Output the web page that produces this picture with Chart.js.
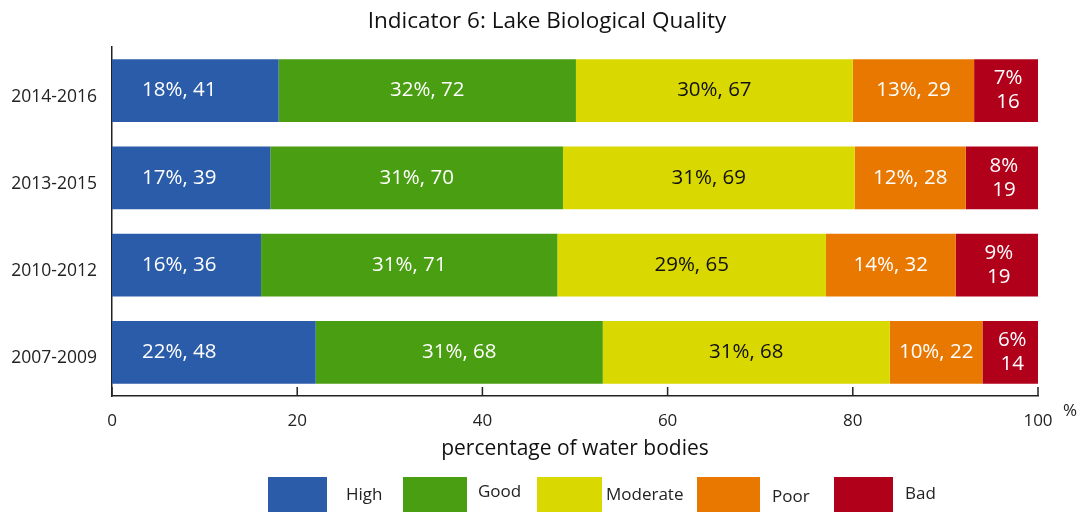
<!DOCTYPE html>
<html>
<head>
<meta charset="utf-8">
<script src="https://cdn.jsdelivr.net/npm/chart.js@4/dist/chart.umd.min.js"></script>
<style>
  html, body { margin: 0; padding: 0; background: #fff; }
  #wrap { width: 1081px; height: 512px; }
</style>
</head>
<body>
<div id="wrap"><canvas id="chart"></canvas></div>
<script>
// Assessment periods (top to bottom)
const periods = ["2014-2016", "2013-2015", "2010-2012", "2007-2009"];
const classNames = ["High", "Good", "Moderate", "Poor", "Bad"];

// Share of water bodies per class (bar length, %)
const highShare = [18.0, 17.1, 16.1, 22.0];
const goodShare = [32.1, 31.6, 32.0, 31.0];
const moderateShare = [29.9, 31.5, 29.0, 31.0];
const poorShare = [13.1, 12.0, 14.0, 10.0];
const badShare = [6.9, 7.8, 8.9, 6.0];

// Rounded % shown in labels
const highPct = [18, 17, 16, 22];
const goodPct = [32, 31, 31, 31];
const moderatePct = [30, 31, 29, 31];
const poorPct = [13, 12, 14, 10];
const badPct = [7, 8, 9, 6];

// Number of water bodies
const highCount = [41, 39, 36, 48];
const goodCount = [72, 70, 71, 68];
const moderateCount = [67, 69, 65, 68];
const poorCount = [29, 28, 32, 22];
const badCount = [16, 19, 19, 14];

const xTicks = [0, 20, 40, 60, 80, 100];
const chartTitle = "Indicator 6: Lake Biological Quality";

const FONT = "'Open Sans', 'Noto Sans', sans-serif";
const colors = ["#2B5CA9", "#4A9E12", "#D9D800", "#E87800", "#B0001A"];
const labelColors = ["#fff", "#fff", "#111", "#fff", "#fff"];

const shares = [highShare, goodShare, moderateShare, poorShare, badShare];
const pcts = [highPct, goodPct, moderatePct, poorPct, badPct];
const counts = [highCount, goodCount, moderateCount, poorCount, badCount];

const datasets = classNames.map((name, i) => ({
  label: name,
  data: shares[i],
  pct: pcts[i],
  count: counts[i],
  backgroundColor: colors[i],
  labelColor: labelColors[i],
  borderWidth: 0,
  barPercentage: 0.72,
  categoryPercentage: 1.0
}));

// Labels in bars, inward tick marks, "%" unit, title and legend
const decorations = {
  id: "decorations",
  afterDatasetsDraw(chart) {
    const ctx = chart.ctx;
    const last = chart.data.datasets.length - 1;
    ctx.save();
    ctx.font = "20.5px " + FONT;
    ctx.textBaseline = "middle";
    chart.data.datasets.forEach((ds, i) => {
      const meta = chart.getDatasetMeta(i);
      ctx.fillStyle = ds.labelColor;
      meta.data.forEach((bar, j) => {
        const cx = (bar.x + bar.base) / 2;
        const txt = ds.pct[j] + "%, " + ds.count[j];
        if (i === 0) {
          // first class: label sits near the start of the bar
          ctx.textAlign = "left";
          ctx.fillText(txt, bar.base + 30, bar.y);
        } else if (i === last) {
          ctx.textAlign = "center";
          ctx.fillText(ds.pct[j] + "%", cx + 2, bar.y - 12);
          ctx.fillText(String(ds.count[j]), cx + 2, bar.y + 12);
        } else {
          ctx.textAlign = "center";
          ctx.fillText(txt, cx, bar.y);
        }
      });
    });
    ctx.restore();
  },
  afterDraw(chart) {
    const ctx = chart.ctx;
    const xs = chart.scales.x;
    const area = chart.chartArea;
    ctx.save();
    // tick marks pointing into the plot
    ctx.strokeStyle = "#222";
    ctx.lineWidth = 1.5;
    xTicks.forEach(v => {
      const px = xs.getPixelForValue(v);
      ctx.beginPath();
      ctx.moveTo(px, area.bottom);
      ctx.lineTo(px, area.bottom - 9);
      ctx.stroke();
    });
    // unit
    ctx.fillStyle = "#222";
    ctx.font = "17px " + FONT;
    ctx.textAlign = "left";
    ctx.textBaseline = "middle";
    ctx.fillText("%", area.right + 25, area.bottom + 15);

    // title
    ctx.fillStyle = "#111";
    ctx.font = "22.5px " + FONT;
    ctx.textAlign = "center";
    ctx.fillText(chartTitle, 547, 22);

    // legend
    const boxX = [268, 403, 537, 697, 834];
    const boxW = [59, 64, 65, 63, 59];
    const textX = [346, 478, 606, 772, 905];
    const textY = [495, 492, 495, 497, 494];
    ctx.font = "17px " + FONT;
    ctx.textAlign = "left";
    chart.data.datasets.forEach((ds, i) => {
      ctx.fillStyle = ds.backgroundColor;
      ctx.fillRect(boxX[i], 477, boxW[i], 35);
      ctx.fillStyle = "#222";
      ctx.fillText(ds.label, textX[i], textY[i]);
    });
    ctx.restore();
  }
};

new Chart(document.getElementById("chart"), {
  type: "bar",
  data: { labels: periods, datasets: datasets },
  options: {
    indexAxis: "y",
    responsive: true,
    maintainAspectRatio: false,
    animation: false,
    layout: { padding: { top: 47, right: 43, bottom: 50, left: 0 } },
    plugins: {
      legend: { display: false },
      tooltip: { enabled: false },
      title: { display: false }
    },
    scales: {
      x: {
        stacked: true,
        min: 0,
        max: 100,
        afterBuildTicks: s => { s.ticks = xTicks.map(v => ({ value: v })); },
        afterFit: s => { s.height = 66; },
        grid: { display: false, drawTicks: false },
        border: { display: true, color: "#222", width: 1.5 },
        ticks: {
          color: "#222",
          padding: 15,
          maxRotation: 0,
          font: { family: FONT, size: 17 }
        },
        title: {
          display: true,
          text: "percentage of water bodies",
          color: "#111",
          font: { family: FONT, size: 21 },
          padding: { top: 0, bottom: 0 }
        }
      },
      y: {
        stacked: true,
        afterFit: s => { s.width = 112; },
        grid: { display: false, drawTicks: false },
        border: { display: true, color: "#222", width: 1.5 },
        ticks: {
          color: "#222",
          padding: 15,
          labelOffset: 6,
          font: { family: FONT, size: 17.5 }
        }
      }
    }
  },
  plugins: [decorations]
});
</script>
</body>
</html>
